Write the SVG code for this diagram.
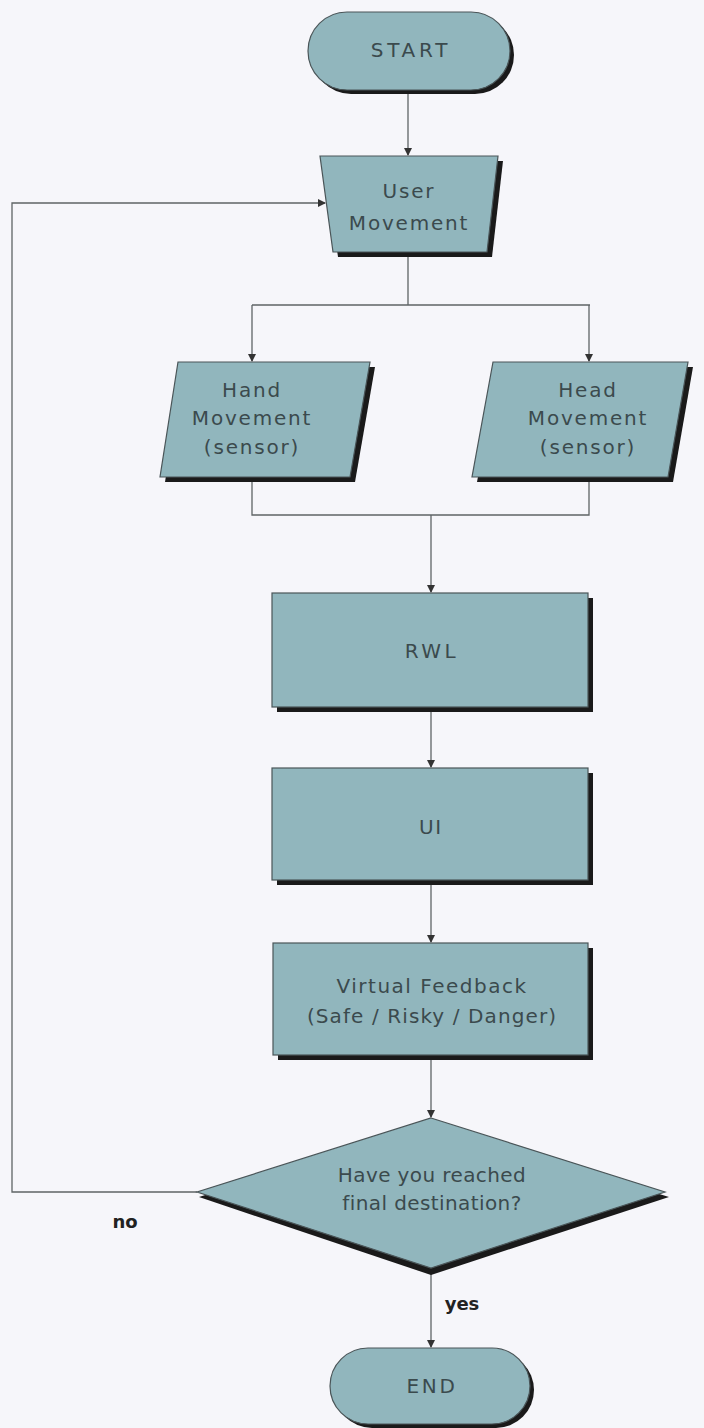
<svg xmlns="http://www.w3.org/2000/svg" width="704" height="1428" viewBox="0 0 704 1428">
<defs>
<style>
.sh{fill:#1a1a1a}
.nd{fill:#91b6bd;stroke:#4a5558;stroke-width:1.2}
.t{font-family:"DejaVu Sans",sans-serif;font-size:20px;fill:#3b4a4d;text-anchor:middle;letter-spacing:1.8px}
.lb{font-family:"DejaVu Sans",sans-serif;font-size:18px;font-weight:bold;fill:#222;text-anchor:middle}
.c{fill:none;stroke:#5f6466;stroke-width:1.3}
</style>
<marker id="ah" markerWidth="8" markerHeight="8" refX="7" refY="4" orient="auto" markerUnits="userSpaceOnUse">
<path d="M0,0 L8,4 L0,8 Z" fill="#333"/>
</marker>
</defs>
<rect width="704" height="1428" fill="#f6f6fa"/>
<g id="connectors">
<path class="c" d="M408,90 V155" marker-end="url(#ah)"/>
<path class="c" d="M408,252 V305 M252,305 H590"/>
<path class="c" d="M252,305 V361" marker-end="url(#ah)"/>
<path class="c" d="M589,305 V361" marker-end="url(#ah)"/>
<path class="c" d="M252,477 V515 H589 V477"/>
<path class="c" d="M431,515 V592" marker-end="url(#ah)"/>
<path class="c" d="M431,707 V767" marker-end="url(#ah)"/>
<path class="c" d="M431,880 V942" marker-end="url(#ah)"/>
<path class="c" d="M431,1055 V1117" marker-end="url(#ah)"/>
<path class="c" d="M197,1192 H12 V203 H325" marker-end="url(#ah)"/>
<path class="c" d="M431,1268 V1347" marker-end="url(#ah)"/>
</g>
<g id="start">
<rect class="sh" x="312" y="16" width="202" height="78" rx="39"/>
<rect class="nd" x="308" y="12" width="202" height="78" rx="39"/>
<text class="t" x="411" y="57" style="letter-spacing:3.8px">START</text>
</g>
<g id="user-movement">
<polygon class="sh" points="325,161 503,161 492,257 338,257"/>
<polygon class="nd" points="320,156 498,156 487,252 333,252"/>
<text class="t" x="409" y="198">User</text>
<text class="t" x="409" y="230">Movement</text>
</g>
<g id="hand-movement">
<polygon class="sh" points="183,367 375,367 355,482 165,482"/>
<polygon class="nd" points="178,362 370,362 350,477 160,477"/>
<text class="t" x="252" y="397">Hand</text>
<text class="t" x="252" y="425">Movement</text>
<text class="t" x="252" y="454">(sensor)</text>
</g>
<g id="head-movement">
<polygon class="sh" points="498,367 693,367 673,482 477,482"/>
<polygon class="nd" points="493,362 688,362 668,477 472,477"/>
<text class="t" x="588" y="397">Head</text>
<text class="t" x="588" y="425">Movement</text>
<text class="t" x="588" y="454">(sensor)</text>
</g>
<g id="rwl">
<rect class="sh" x="277" y="598" width="316" height="114"/>
<rect class="nd" x="272" y="593" width="316" height="114"/>
<text class="t" x="432" y="658" style="letter-spacing:3.5px">RWL</text>
</g>
<g id="ui">
<rect class="sh" x="277" y="773" width="316" height="112"/>
<rect class="nd" x="272" y="768" width="316" height="112"/>
<text class="t" x="431" y="834">UI</text>
</g>
<g id="virtual-feedback">
<rect class="sh" x="278" y="948" width="315" height="112"/>
<rect class="nd" x="273" y="943" width="315" height="112"/>
<text class="t" x="432" y="993" style="letter-spacing:1.5px">Virtual Feedback</text>
<text class="t" x="432" y="1023" style="letter-spacing:1.1px">(Safe / Risky / Danger)</text>
</g>
<g id="decision">
<polygon class="sh" points="431,1124 669,1197 431,1275 199,1197"/>
<polygon class="nd" points="431,1118 665,1192 431,1268 197,1192"/>
<text class="t" x="432" y="1182" style="letter-spacing:0.4px">Have you reached</text>
<text class="t" x="432" y="1210" style="letter-spacing:0.4px">final destination?</text>
</g>
<g id="end">
<rect class="sh" x="334" y="1352" width="200" height="76" rx="38"/>
<rect class="nd" x="330" y="1348" width="200" height="76" rx="38"/>
<text class="t" x="432" y="1393" style="letter-spacing:2.7px">END</text>
</g>
<g id="labels">
<text class="lb" x="125" y="1228">no</text>
<text class="lb" x="462" y="1310">yes</text>
</g>
</svg>
